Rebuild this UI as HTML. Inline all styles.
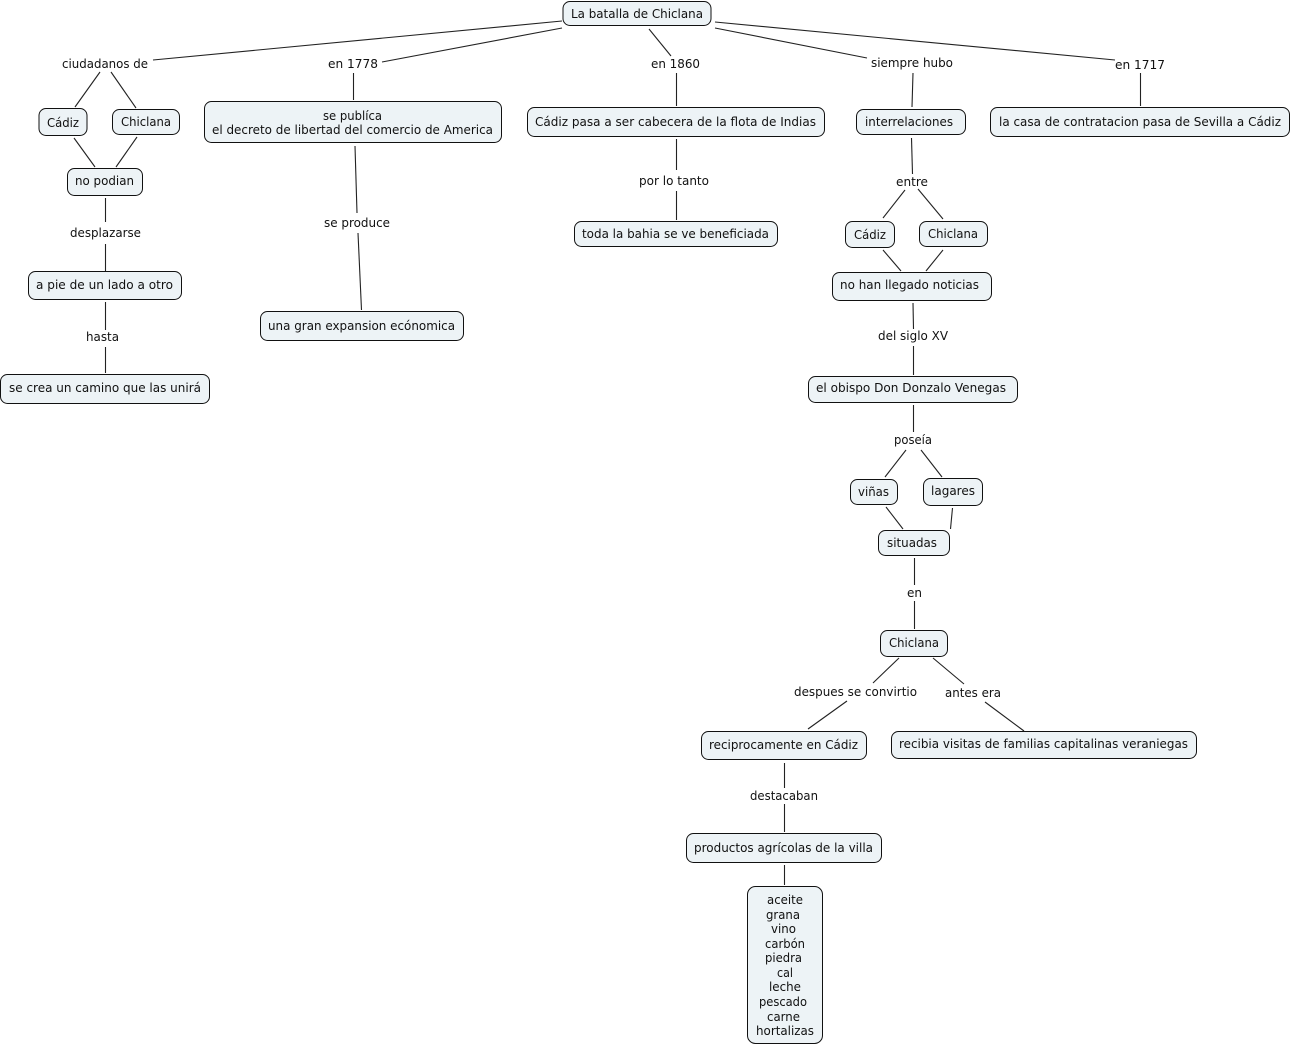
<!DOCTYPE html>
<html><head><meta charset="utf-8"><style>
html,body{margin:0;padding:0;background:#fff}
svg{display:block}
text{font-family:"DejaVu Sans","Liberation Sans",sans-serif;font-size:12.5px;fill:#111}
rect{fill:#edf3f6;stroke:#111;stroke-width:1}
line{stroke:#222;stroke-width:1.1}
</style></head><body>
<svg width="1292" height="1045" viewBox="0 0 1292 1045" xmlns="http://www.w3.org/2000/svg">
<!-- connectors -->
<line x1="562" y1="21" x2="153" y2="60"/><line x1="562" y1="28" x2="382" y2="62"/><line x1="649" y1="29" x2="671" y2="56"/><line x1="715" y1="28" x2="867" y2="58"/><line x1="715" y1="22" x2="1115" y2="60"/>
<line x1="100" y1="72" x2="75" y2="107"/><line x1="111" y1="72" x2="136" y2="108"/><line x1="74" y1="138" x2="95" y2="167"/><line x1="137" y1="137" x2="116" y2="167"/>
<line x1="105.500" y1="198" x2="105.500" y2="222"/><line x1="105.500" y1="244" x2="105.500" y2="271"/><line x1="105.500" y1="302" x2="105.500" y2="330"/><line x1="105.500" y1="347" x2="105.500" y2="373"/>
<line x1="353.500" y1="73" x2="353.500" y2="100"/><line x1="355" y1="146" x2="357" y2="213"/><line x1="358" y1="233" x2="361.500" y2="310"/>
<line x1="676.500" y1="73" x2="676.500" y2="106"/><line x1="676.500" y1="139" x2="676.500" y2="170"/><line x1="676.500" y1="191" x2="676.500" y2="220"/>
<line x1="913" y1="73" x2="912" y2="107"/><line x1="911.500" y1="138" x2="912.500" y2="174"/><line x1="905" y1="190" x2="883" y2="218"/><line x1="918" y1="189" x2="943" y2="219"/><line x1="883" y1="250" x2="901" y2="271"/><line x1="943" y1="250" x2="926" y2="271"/>
<line x1="913" y1="303" x2="913.500" y2="329"/><line x1="913.500" y1="346" x2="913.500" y2="375"/><line x1="913.500" y1="405" x2="913.500" y2="432"/><line x1="906" y1="450" x2="885" y2="477"/><line x1="921" y1="450" x2="942" y2="477"/><line x1="886" y1="507" x2="903" y2="529"/><line x1="952.500" y1="508" x2="950.500" y2="529"/>
<line x1="914.500" y1="558" x2="914.500" y2="585"/><line x1="914.500" y1="601" x2="914.500" y2="629"/><line x1="899" y1="658" x2="873" y2="683"/><line x1="933" y1="658" x2="964" y2="684"/><line x1="847" y1="701" x2="808" y2="729"/><line x1="985" y1="702" x2="1024" y2="731"/>
<line x1="784.500" y1="763" x2="784.500" y2="788"/><line x1="784.500" y1="804" x2="784.500" y2="832"/><line x1="784.500" y1="865" x2="784.500" y2="885"/>
<line x1="1140.500" y1="73" x2="1140.500" y2="106"/>
<!-- nodes -->
<rect x="563" y="1.500" width="148" height="24" rx="7"/>
<rect x="39" y="108.500" width="48" height="27" rx="7"/>
<rect x="112.500" y="109.500" width="67" height="25" rx="7"/>
<rect x="67.500" y="168.500" width="75" height="27" rx="7"/>
<rect x="28.500" y="271.500" width="153" height="28" rx="7"/>
<rect x="0.500" y="374.500" width="209" height="29" rx="7"/>
<rect x="204.500" y="101.500" width="297" height="41" rx="7"/>
<rect x="260.500" y="311.500" width="203" height="29" rx="7"/>
<rect x="527.500" y="107.500" width="297" height="29" rx="7"/>
<rect x="574.500" y="221.500" width="203" height="25" rx="7"/>
<rect x="856.500" y="109.500" width="109" height="25" rx="7"/>
<rect x="990.500" y="107.500" width="299" height="29" rx="7"/>
<rect x="845.500" y="221.500" width="49" height="26" rx="7"/>
<rect x="919.500" y="221.500" width="68" height="25" rx="7"/>
<rect x="832.500" y="272.500" width="159" height="28" rx="7"/>
<rect x="808.500" y="376.500" width="209" height="26" rx="7"/>
<rect x="850.500" y="479.500" width="47" height="25" rx="7"/>
<rect x="923.500" y="478.500" width="59" height="27" rx="7"/>
<rect x="878.500" y="530.500" width="71" height="25" rx="7"/>
<rect x="880.500" y="630.500" width="67" height="26" rx="7"/>
<rect x="701.500" y="731.500" width="165" height="28" rx="7"/>
<rect x="891.500" y="731.500" width="305" height="27" rx="7"/>
<rect x="686.500" y="833.500" width="195" height="29" rx="7"/>
<rect x="747.500" y="886.500" width="75" height="157" rx="8"/>
<!-- node text -->
<text x="571" y="18" textLength="132" lengthAdjust="spacingAndGlyphs">La batalla de Chiclana</text>
<text x="47" y="127" textLength="32" lengthAdjust="spacingAndGlyphs">Cádiz</text>
<text x="121" y="126" textLength="50" lengthAdjust="spacingAndGlyphs">Chiclana</text>
<text x="75" y="185" textLength="59" lengthAdjust="spacingAndGlyphs">no podian</text>
<text x="36" y="289" textLength="137" lengthAdjust="spacingAndGlyphs">a pie de un lado a otro</text>
<text x="9" y="392" textLength="192" lengthAdjust="spacingAndGlyphs">se crea un camino que las unirá</text>
<text x="323" y="120" textLength="59" lengthAdjust="spacingAndGlyphs">se publíca</text>
<text x="212" y="134" textLength="281" lengthAdjust="spacingAndGlyphs">el decreto de libertad del comercio de America</text>
<text x="268" y="330" textLength="187" lengthAdjust="spacingAndGlyphs">una gran expansion ecónomica</text>
<text x="535" y="126" textLength="281" lengthAdjust="spacingAndGlyphs">Cádiz pasa a ser cabecera de la flota de Indias</text>
<text x="582" y="238" textLength="187" lengthAdjust="spacingAndGlyphs">toda la bahia se ve beneficiada</text>
<text x="865" y="126" textLength="88" lengthAdjust="spacingAndGlyphs">interrelaciones</text>
<text x="999" y="126" textLength="282" lengthAdjust="spacingAndGlyphs">la casa de contratacion pasa de Sevilla a Cádiz</text>
<text x="854" y="239" textLength="32" lengthAdjust="spacingAndGlyphs">Cádiz</text>
<text x="928" y="238" textLength="50" lengthAdjust="spacingAndGlyphs">Chiclana</text>
<text x="840" y="289" textLength="139" lengthAdjust="spacingAndGlyphs">no han llegado noticias</text>
<text x="816" y="392" textLength="190" lengthAdjust="spacingAndGlyphs">el obispo Don Donzalo Venegas</text>
<text x="858" y="496" textLength="31" lengthAdjust="spacingAndGlyphs">viñas</text>
<text x="931" y="495" textLength="44" lengthAdjust="spacingAndGlyphs">lagares</text>
<text x="887" y="547" textLength="50" lengthAdjust="spacingAndGlyphs">situadas</text>
<text x="889" y="647" textLength="50" lengthAdjust="spacingAndGlyphs">Chiclana</text>
<text x="709" y="749" textLength="149" lengthAdjust="spacingAndGlyphs">reciprocamente en Cádiz</text>
<text x="899" y="748" textLength="289" lengthAdjust="spacingAndGlyphs">recibia visitas de familias capitalinas veraniegas</text>
<text x="694" y="852" textLength="179" lengthAdjust="spacingAndGlyphs">productos agrícolas de la villa</text>
<text x="767" y="904" textLength="36" lengthAdjust="spacingAndGlyphs">aceite</text>
<text x="766" y="919" textLength="34" lengthAdjust="spacingAndGlyphs">grana</text>
<text x="771" y="933" textLength="25" lengthAdjust="spacingAndGlyphs">vino</text>
<text x="765" y="948" textLength="40" lengthAdjust="spacingAndGlyphs">carbón</text>
<text x="765" y="962" textLength="37" lengthAdjust="spacingAndGlyphs">piedra</text>
<text x="777" y="977" textLength="16" lengthAdjust="spacingAndGlyphs">cal</text>
<text x="769" y="991" textLength="32" lengthAdjust="spacingAndGlyphs">leche</text>
<text x="759" y="1006" textLength="48" lengthAdjust="spacingAndGlyphs">pescado</text>
<text x="767" y="1021" textLength="33" lengthAdjust="spacingAndGlyphs">carne</text>
<text x="756" y="1035" textLength="58" lengthAdjust="spacingAndGlyphs">hortalizas</text>
<!-- link labels -->
<text x="62" y="68" textLength="86" lengthAdjust="spacingAndGlyphs">ciudadanos de</text>
<text x="328" y="68" textLength="50" lengthAdjust="spacingAndGlyphs">en 1778</text>
<text x="651" y="68" textLength="49" lengthAdjust="spacingAndGlyphs">en 1860</text>
<text x="871" y="67" textLength="82" lengthAdjust="spacingAndGlyphs">siempre hubo</text>
<text x="1115" y="69" textLength="50" lengthAdjust="spacingAndGlyphs">en 1717</text>
<text x="70" y="237" textLength="71" lengthAdjust="spacingAndGlyphs">desplazarse</text>
<text x="86" y="341" textLength="33" lengthAdjust="spacingAndGlyphs">hasta</text>
<text x="324" y="227" textLength="66" lengthAdjust="spacingAndGlyphs">se produce</text>
<text x="639" y="185" textLength="70" lengthAdjust="spacingAndGlyphs">por lo tanto</text>
<text x="896" y="186" textLength="32" lengthAdjust="spacingAndGlyphs">entre</text>
<text x="878" y="340" textLength="70" lengthAdjust="spacingAndGlyphs">del siglo XV</text>
<text x="894" y="444" textLength="38" lengthAdjust="spacingAndGlyphs">poseía</text>
<text x="907" y="597" textLength="15" lengthAdjust="spacingAndGlyphs">en</text>
<text x="794" y="696" textLength="123" lengthAdjust="spacingAndGlyphs">despues se convirtio</text>
<text x="945" y="697" textLength="56" lengthAdjust="spacingAndGlyphs">antes era</text>
<text x="750" y="800" textLength="68" lengthAdjust="spacingAndGlyphs">destacaban</text>
</svg>
</body></html>
